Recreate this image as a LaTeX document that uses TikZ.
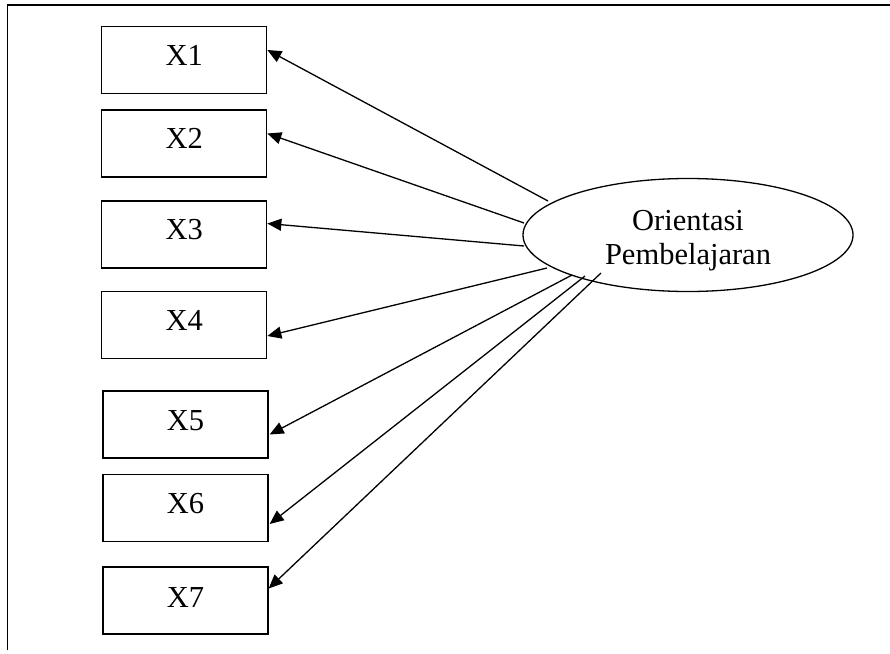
\documentclass[tikz,border=0pt]{standalone}
\usepackage{fontspec}
\setmainfont{Liberation Serif}
\usetikzlibrary{shapes.geometric,arrows.meta,calc}
\begin{document}
\begin{tikzpicture}[x=1pt,y=-1pt,
  itembox/.style={draw,line width=1.3pt,rectangle,minimum width=165pt,minimum height=67pt,inner sep=0pt},
  itemtext/.style={inner sep=0pt,font=\fontsize{30.5}{35}\selectfont},
  latent/.style={draw,line width=1.3pt,ellipse,minimum width=330pt,minimum height=113pt,inner sep=0pt},
  latenttext/.style={inner sep=0pt,align=center,font=\fontsize{30.5}{34}\selectfont},
  link/.style={line width=1.3pt,-{Triangle[length=14pt,width=12pt]}}]
\useasboundingbox (0,0) rectangle (890,653);
\draw[line width=1.5pt] (7.5,650) -- (7.5,5) -- (890,5);
\node[itembox] (x1) at (184.2,60) {};
\node[itembox] (x2) at (184.2,143.5) {};
\node[itembox] (x3) at (184.2,234.5) {};
\node[itembox] (x4) at (184.2,325) {};
\node[itembox] (x5) at (185.5,424.5) {};
\node[itembox] (x6) at (185.5,508) {};
\node[itembox] (x7) at (185.5,600.5) {};
\node[itemtext] (t1) at ($(x1)+(0,-5)$) {X1};
\node[itemtext] (t2) at ($(x2)+(0,-5)$) {X2};
\node[itemtext] (t3) at ($(x3)+(0,-5)$) {X3};
\node[itemtext] (t4) at ($(x4)+(0,-5)$) {X4};
\node[itemtext] (t5) at ($(x5)+(0,-4)$) {X5};
\node[itemtext] (t6) at ($(x6)+(0,-4)$) {X6};
\node[itemtext] (t7) at ($(x7)+(0,-3)$) {X7};
\node[latent] (op) at (688,235) {};
\node[latenttext] (opt) at ($(op)+(0,6)$) {Orientasi\\Pembelajaran};
\coordinate (s1) at (548,201);
\coordinate (s2) at (524,223);
\coordinate (s3) at (524,246);
\coordinate (s4) at (547,268);
\coordinate (s5) at (572,275);
\coordinate (s6) at (585,276);
\coordinate (s7) at (601,273);
\draw[link] (s1) -- ($(x1.east)+(0,-10)$);
\draw[link] (s2) -- ($(x2.east)+(0,-10)$);
\draw[link] (s3) -- ($(x3.east)+(0,-11)$);
\draw[link] (s4) -- ($(x4.east)+(0,11)$);
\draw[link] (s5) -- ($(x5.east)+(1,10)$);
\draw[link] (s6) -- ($(x6.east)+(1,16)$);
\draw[link] (s7) -- ($(x7.east)+(0,-12)$);
\end{tikzpicture}
\end{document}
